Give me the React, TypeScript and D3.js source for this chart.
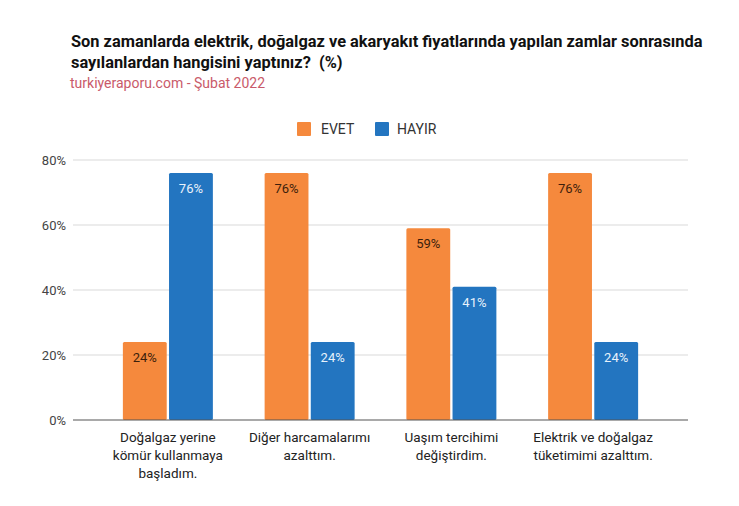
import React from 'react';
import * as d3 from 'd3';

const categories = [
  ['Doğalgaz yerine', 'kömür kullanmaya', 'başladım.'],
  ['Diğer harcamalarımı', 'azalttım.'],
  ['Uaşım tercihimi', 'değiştirdim.'],
  ['Elektrik ve doğalgaz', 'tüketimimi azalttım.'],
];
const evetValues = [24, 76, 59, 76];
const hayirValues = [76, 24, 41, 24];
const seriesNames = ['EVET', 'HAYIR'];
const yTicks = [0, 20, 40, 60, 80];

const ORANGE = '#f5893d';
const BLUE = '#2375c0';
const FONT = 'Roboto, "Noto Sans", sans-serif';

const App: React.FC = () => {
  const width = 739;
  const height = 506;

  const y = d3.scaleLinear().domain([0, 80]).range([420, 160]);
  const x0 = d3
    .scaleBand<number>()
    .domain(d3.range(categories.length))
    .range([97, 664])
    .paddingInner(0)
    .paddingOuter(0);
  const x1 = d3
    .scaleBand<string>()
    .domain(seriesNames)
    .range([0, 90])
    .paddingInner(0.05);

  const series = [
    { name: 'EVET', values: evetValues, color: ORANGE, label: '#3d1f0c' },
    { name: 'HAYIR', values: hayirValues, color: BLUE, label: '#e8f2fb' },
  ];

  return (
    <svg width={width} height={height} style={{ display: 'block', margin: -8 }} fontFamily={FONT}>
      <rect width={width} height={height} fill="#fff" />

      {/* title */}
      <text x={71} y={47} fontSize={16.4} fontWeight="bold" fill="#111">
        Son zamanlarda elektrik, doğalgaz ve akaryakıt fiyatlarında yapılan zamlar sonrasında
      </text>
      <text x={71} y={68} fontSize={16.4} fontWeight="bold" fill="#111">
        {'sayılanlardan hangisini yaptınız?\u00a0 (%)'}
      </text>
      <text x={70} y={88} fontSize={14} fill="#c95a6a">
        turkiyeraporu.com - Şubat 2022
      </text>

      {/* legend */}
      <g fontSize={14} fill="#333">
        <rect x={297} y={122} width={14} height={14} fill={ORANGE} rx={1} />
        <text x={321} y={134}>EVET</text>
        <rect x={375} y={122} width={14} height={14} fill={BLUE} rx={1} />
        <text x={397} y={134}>HAYIR</text>
      </g>

      {/* grid + y axis */}
      {yTicks.map(t => (
        <g key={t}>
          {t !== 0 && (
            <line x1={73} x2={688} y1={y(t)} y2={y(t)} stroke="#d9d9d9" strokeWidth={1} />
          )}
          <text x={66} y={y(t)} dy="0.35em" textAnchor="end" fontSize={13} fill="#444">
            {t}%
          </text>
        </g>
      ))}

      {/* bars */}
      {categories.map((cat, i) => {
        const gx = (x0(i) as number) + (x0.bandwidth() - 90) / 2;
        return (
          <g key={i} transform={`translate(${gx},0)`}>
            {series.map(s => {
              const bx = x1(s.name) as number;
              const v = s.values[i];
              return (
                <g key={s.name}>
                  <rect
                    x={bx}
                    y={y(v)}
                    width={x1.bandwidth()}
                    height={y(0) - y(v)}
                    fill={s.color}
                    rx={1.5}
                  />
                  <text
                    x={bx + x1.bandwidth() / 2}
                    y={y(v) + 20}
                    textAnchor="middle"
                    fontSize={13}
                    fill={s.label}
                  >
                    {v}%
                  </text>
                </g>
              );
            })}
          </g>
        );
      })}

      {/* baseline */}
      <line x1={73} x2={688} y1={y(0)} y2={y(0)} stroke="#555" strokeWidth={1.2} />

      {/* x labels */}
      {categories.map((cat, i) => {
        const cx = (x0(i) as number) + x0.bandwidth() / 2;
        return (
          <text key={i} textAnchor="middle" fontSize={13.5} fill="#222">
            {cat.map((line, j) => (
              <tspan key={j} x={cx} y={442 + j * 18}>
                {line}
              </tspan>
            ))}
          </text>
        );
      })}
    </svg>
  );
};

export default App;
